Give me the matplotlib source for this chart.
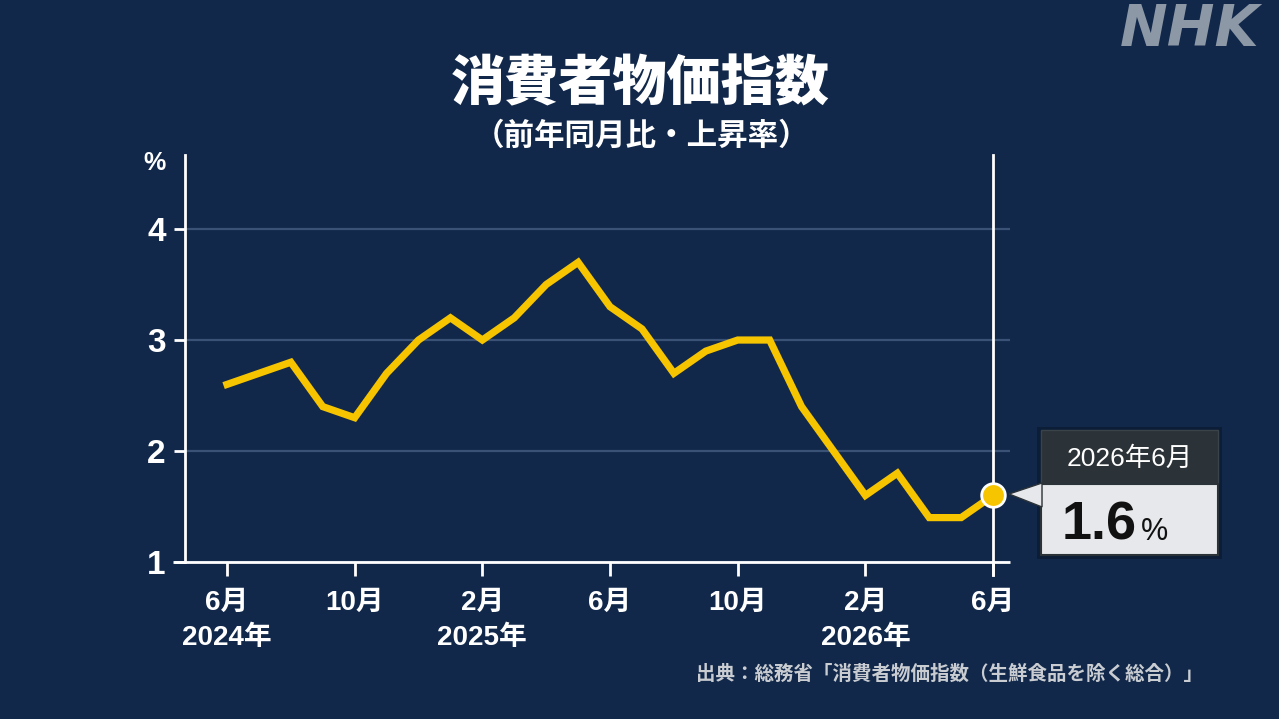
import matplotlib
matplotlib.use("Agg")
import matplotlib.pyplot as plt
from matplotlib.patches import Rectangle, Polygon

plt.rcParams['font.family'] = ['Liberation Sans', 'Noto Sans CJK JP', 'DejaVu Sans']
CJK = ['Noto Sans CJK JP', 'DejaVu Sans']

# ---- data ----
values = [2.6, 2.7, 2.8, 2.4, 2.3, 2.7, 3.0, 3.2, 3.0, 3.2, 3.5, 3.7,
          3.3, 3.1, 2.7, 2.9, 3.0, 3.0, 2.4, 2.0, 1.6, 1.8, 1.4, 1.4, 1.6]
months = list(range(len(values)))
tick_pos = [0, 4, 8, 12, 16, 20, 24]
tick_labels = ["6月\n2024年", "10月", "2月\n2025年", "6月", "10月", "2月\n2026年", "6月"]
yticks = [1, 2, 3, 4]
title = "消費者物価指数"
subtitle = "（前年同月比・上昇率）"
source = "出典：総務省「消費者物価指数（生鮮食品を除く総合）」"
callout_date = "2026年6月"
callout_value = "1.6"

BG = "#11284a"
YEL = "#f7c400"
W, H = 1279, 719

fig = plt.figure(figsize=(W / 100, H / 100), dpi=100, facecolor=BG)
ax = fig.add_axes([185 / W, (H - 562) / H, (1010 - 185) / W, (562 - 155) / H])
ax.set_facecolor(BG)

ax.set_xlim(-1.316, 24.53)
ax.set_ylim(1, 4.667)

for s in ['top', 'right', 'bottom']:
    ax.spines[s].set_visible(False)
ax.spines['left'].set_color('white')
ax.spines['left'].set_linewidth(2)
ax.spines['left'].set_zorder(4)
# bottom axis line (extends slightly left of y axis)
ax.plot([-12 / 825, 1], [0, 0], transform=ax.transAxes, color='white', lw=2,
        clip_on=False, zorder=4, solid_capstyle='butt')

ax.set_yticks(yticks)
ax.set_yticklabels([str(v) for v in yticks], color='white', fontsize=24, fontweight='bold')
ax.tick_params(axis='y', length=8, width=2, color='white', pad=6)
ax.grid(axis='y', color='#3a5276', lw=1.6, zorder=1)

ax.set_xticks(tick_pos)
ax.set_xticklabels(tick_labels, color='white', fontsize=20, fontweight='bold', linespacing=1.45)
ax.tick_params(axis='x', length=10, width=2, color='white', pad=10, direction='out')

# vertical line at latest month
ax.axvline(months[-1], ymin=-13 / 407, ymax=1, color='white', lw=2, clip_on=False, zorder=3)

# data line
ax.plot(months, values, color=YEL, lw=5.2, zorder=5, solid_joinstyle='miter')
ax.plot(months[-1], values[-1], 'o', ms=17, mfc=YEL, mec='white', mew=2, zorder=6, clip_on=False)

# % label
fig.text(154 / W, (H - 163) / H, "%", color='white', fontsize=18, fontweight='bold',
         ha='center', va='center')

# title
fig.text(640 / W, (H - 84) / H, title, color='white', fontsize=39, fontweight='heavy',
         family=CJK, ha='center', va='center')
fig.text(642 / W, (H - 136) / H, subtitle, color='white', fontsize=22, fontweight='bold',
         family=CJK, ha='center', va='center')

# NHK logo
fig.text(1190 / W, (H - 31) / H, "NHK", color='#8d98a6', fontsize=41, fontweight='bold',
         style='italic', family='DejaVu Sans', ha='center', va='center')

# source
fig.text(1203 / W, (H - 674) / H, source, color='#c9cdd2', fontsize=14, fontweight='bold',
         family=CJK, ha='right', va='center')

# callout
def fr(x0, y0_img, x1, y1_img, **kw):
    return Rectangle((x0 / W, (H - y1_img) / H), (x1 - x0) / W, (y1_img - y0_img) / H,
                     transform=fig.transFigure, **kw)

fig.patches.append(fr(1037, 427, 1222, 559, facecolor='#0b1a30', edgecolor='none', alpha=0.7, zorder=1))
fig.patches.append(fr(1041, 430, 1218, 484, facecolor='#2b3238', edgecolor='#3a424a', lw=1, zorder=2))
fig.patches.append(fr(1041, 484, 1218, 555, facecolor='#e6e8eb', edgecolor='#2b3238', lw=1.5, zorder=2))
tri = Polygon([(1009 / W, (H - 494) / H), (1042 / W, (H - 483) / H), (1042 / W, (H - 507) / H)],
              closed=True, transform=fig.transFigure, facecolor='#e6e8eb', edgecolor='#2b3238',
              lw=1, zorder=3)
fig.patches.append(tri)
fig.text(1130 / W, (H - 459) / H, callout_date, color='white', fontsize=19, ha='center', va='center')
fig.text(1062 / W, (H - 540) / H, callout_value, color='#111111', fontsize=39, fontweight='bold',
         ha='left', va='baseline')
fig.text(1141 / W, (H - 540) / H, "%", color='#111111', fontsize=22,
         ha='left', va='baseline')

fig.savefig("out.png", dpi=100, facecolor=BG)
